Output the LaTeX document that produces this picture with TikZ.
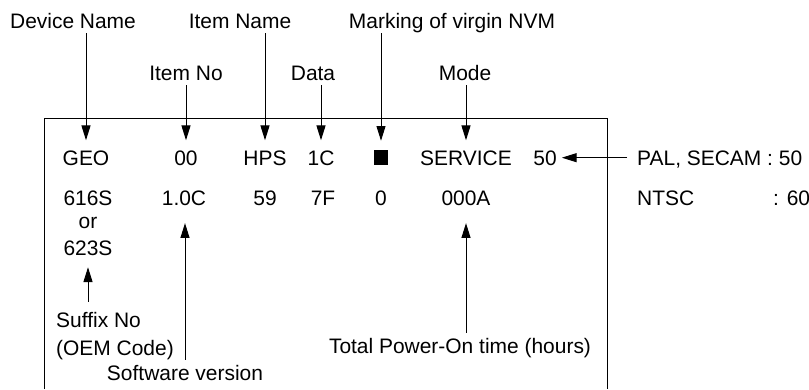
\documentclass[tikz,border=0pt]{standalone}
\usepackage{fontspec}
\setmainfont{Liberation Sans}
\usetikzlibrary{arrows.meta}

\tikzset{
  txt/.style={font=\fontsize{14.9pt}{18pt}\selectfont, inner sep=3.5pt, text depth=0pt, anchor=base},
  arr/.style={-{Triangle[length=10.5pt, width=6.4pt]}, line width=0.7pt},
}

\begin{document}
\begin{tikzpicture}[x=0.025cm, y=-0.025cm]
        \useasboundingbox (0,0) rectangle (809,389);

        % Frame of the screen
        \draw[line width=0.7pt] (44,389) -- (44,118) -- (607,118) -- (607,389);

        % Labels above
        \node[txt] (devname) at (73,28) {Device Name};
        \node[txt] (itemname) at (240,28) {Item Name};
        \node[txt] (marking) at (452,28) {Marking of virgin NVM};
        \node[txt] (itemno) at (186,80) {Item No};
        \node[txt] (data) at (313,80) {Data};
        \node[txt] (mode) at (465,80) {Mode};

        % First line
        \node[txt] (geo) at (86,165) {GEO};
        \node[txt] (zero) at (186,165) {00};
        \node[txt] (hps) at (265,165) {HPS};
        \node[txt] (onec) at (321,165) {1C};
        \node[fill=black, inner sep=0pt, minimum size=10.6pt] (mark) at (381,157.5) {};
        \node[txt] (service) at (466,165) {SERVICE};
        \node[txt] (fifty) at (545,165) {50};

        % Second line
        \node[txt] (suffix) at (88,205) {616S};
        \node[txt] (ver) at (184,205) {1.0C};
        \node[txt] (dfive) at (265,205) {59};
        \node[txt] (dseven) at (323,205) {7F};
        \node[txt] (dzero) at (381,205) {0};
        \node[txt] (hours) at (466,205) {000A};
        \node[txt] (or) at (88,228) {or};
        \node[txt] (suffixb) at (88,255) {623S};

        % Labels at the side
        \node[txt, anchor=base west] (pal) at (632,165) {PAL, SECAM : 50};
        \node[txt, anchor=base west] (ntsc) at (632,205) {NTSC};
        \node[txt, anchor=base west] (ntscval) at (768,205) {: 60};

        % Labels below
        \node[txt, anchor=base west] (sufno) at (51,327) {Suffix No};
        \node[txt, anchor=base west] (oem) at (51,355) {(OEM Code)};
        \node[txt] (softver) at (185,380) {Software version};
        \node[txt] (total) at (460,353) {Total Power-On time (hours)};

        % Arrows from above
        \draw[arr, shorten >=3.5pt] (devname.south -| geo.north) -- (geo.north);
        \draw[arr, shorten >=3.5pt] (itemname.south -| hps.north) -- (hps.north);
        \draw[arr, shorten >=3.5pt] (itemno.south -| zero.north) -- (zero.north);
        \draw[arr, shorten >=3.5pt] (data.south -| onec.north) -- (onec.north);
        \draw[arr, shorten >=6.4pt] (marking.south -| mark.north) -- (mark.north);
        \draw[arr, shorten >=3.5pt] (mode.south -| service.north) -- (service.north);

        % Arrows from below
        \draw[arr, shorten <=3.5pt, shorten >=5pt] (sufno.north -| suffixb.south) -- (suffixb.south);
        \draw[arr, shorten >=9.2pt] (softver.north) -- (softver.north |- ver.south);
        \draw[arr, shorten >=9.2pt] (total.north -| hours.south) -- (hours.south);

        % Arrow from the side
        \draw[arr, shorten <=3.5pt] (pal.west) -- (fifty.east);
\end{tikzpicture}
\end{document}
